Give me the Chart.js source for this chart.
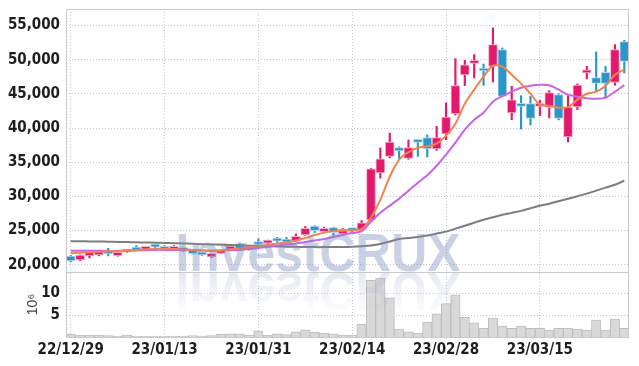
<!DOCTYPE html>
<html>
<head>
<meta charset="utf-8">
<script src="https://cdn.jsdelivr.net/npm/chart.js@4"></script>
<style>
  html, body { margin: 0; padding: 0; background: #fff; }
</style>
</head>
<body>
<canvas id="chart" width="639" height="366"></canvas>
<script>
// trading days
const labels = [
  "22/12/29", "23/01/02", "23/01/03", "23/01/04", "23/01/05", "23/01/06", "23/01/09", "23/01/10", "23/01/11", "23/01/12",
  "23/01/13", "23/01/16", "23/01/17", "23/01/18", "23/01/19", "23/01/20", "23/01/25", "23/01/26", "23/01/27", "23/01/30",
  "23/01/31", "23/02/01", "23/02/02", "23/02/03", "23/02/06", "23/02/07", "23/02/08", "23/02/09", "23/02/10", "23/02/13",
  "23/02/14", "23/02/15", "23/02/16", "23/02/17", "23/02/20", "23/02/21", "23/02/22", "23/02/23", "23/02/24", "23/02/27",
  "23/02/28", "23/03/02", "23/03/03", "23/03/06", "23/03/07", "23/03/08", "23/03/09", "23/03/10", "23/03/13", "23/03/14",
  "23/03/15", "23/03/16", "23/03/17", "23/03/20", "23/03/21", "23/03/22", "23/03/23", "23/03/24", "23/03/27", "23/03/28"
];

const opens = [
  21270, 20700, 21270, 21420, 22050, 21330, 21850, 22340, 22240, 22820,
  22630, 22240, 22530, 22140, 21560, 21130, 21660, 22240, 23100, 22240,
  23050, 23150, 23790, 23640, 23440, 24360, 25660, 24840, 25420, 24510,
  25270, 25090, 26570, 33420, 35850, 37130, 35560, 38300, 38590, 36940,
  39140, 42110, 47770, 49470, 48450, 49040, 51480, 42210, 43320, 43570,
  43180, 43030, 44890, 38690, 43090, 48090, 47380, 48150, 46680, 52650
];
const highs = [
  21350, 21450, 21900, 22100, 22400, 21850, 22150, 22800, 22600, 22950,
  22820, 22800, 22600, 22200, 21650, 21700, 22100, 22800, 23200, 22700,
  23800, 23600, 24000, 24000, 24500, 25600, 25700, 25500, 25500, 25300,
  25350, 26470, 34110, 37080, 39280, 37250, 38260, 38370, 38980, 40250,
  43680, 50160, 49910, 50750, 49380, 54660, 51730, 46110, 44740, 44640,
  44050, 45480, 45050, 44740, 46470, 49040, 51140, 49040, 52210, 52850
];
const lows = [
  20400, 20600, 20990, 21300, 21300, 21250, 21800, 22050, 22150, 22500,
  22100, 22150, 21900, 21550, 21350, 21050, 21600, 22150, 22250, 22150,
  22430, 23100, 23300, 23200, 23400, 24300, 24700, 24800, 24300, 24450,
  24600, 25000, 26300, 32690, 35630, 35520, 35430, 35850, 35760, 36750,
  38300, 41910, 46210, 47330, 46250, 46750, 44640, 41220, 39870, 40450,
  41810, 41480, 41200, 37960, 42690, 47180, 45370, 44410, 46270, 48060
];
const closes = [
  20550, 21420, 21850, 22050, 21560, 21800, 22100, 22140, 22530, 22570,
  22240, 22530, 21950, 21620, 21420, 21660, 22050, 22720, 22340, 22630,
  22950, 23440, 23440, 23300, 24160, 25320, 24990, 25320, 24700, 25230,
  24990, 26140, 34050, 35480, 37960, 36640, 37130, 37900, 36940, 38590,
  41620, 46210, 49240, 49720, 48350, 52210, 44640, 44150, 43180, 41420,
  43420, 45190, 41420, 43090, 46310, 48300, 46540, 46540, 51480, 49760
];

// moving averages as drawn
const ma5 = [
  21662, 21734, 21806, 21879, 21951, 21951, 22023, 22168, 22240, 22312,
  22312, 22312, 22240, 22168, 22095, 22023, 22095, 22240, 22384, 22529,
  22673, 22890, 23107, 23251, 23540, 23902, 24335, 24696, 24913, 24985,
  25058, 25202, 26880, 29520, 32880, 35370, 36470, 37130, 37350, 37720,
  38890, 40640, 43570, 45620, 47520, 49130, 48990, 47820, 46500, 45030,
  43420, 43280, 42990, 43060, 44160, 45030, 45330, 46210, 47820, 48550
];
const ma20 = [
  22023, 22023, 22023, 22023, 22023, 22023, 22052, 22095, 22124, 22168,
  22168, 22168, 22168, 22168, 22095, 22052, 22095, 22124, 22168, 22312,
  22457, 22601, 22818, 22962, 23107, 23324, 23540, 23757, 24046, 24335,
  24624, 24913, 26300, 27610, 28640, 29660, 30830, 32010, 33100, 34490,
  36100, 37860, 39760, 41230, 42250, 43860, 44670, 45330, 45910, 46210,
  46350, 46280, 45620, 44890, 44600, 44380, 44300, 44450, 45330, 46280
];
const ma60 = [
  23439, 23425, 23410, 23396, 23367, 23338, 23309, 23280, 23251, 23222,
  23193, 23150, 23107, 23063, 23006, 22962, 22919, 22876, 22832, 22789,
  22746, 22702, 22673, 22644, 22615, 22587, 22572, 22572, 22587, 22601,
  22644, 22717, 22818, 23035, 23396, 23757, 23902, 24046, 24263, 24552,
  24841, 25274, 25708, 26141, 26575, 26936, 27297, 27586, 27875, 28270,
  28640, 28930, 29300, 29660, 30030, 30400, 30840, 31280, 31710, 32290
];

// volume in millions
const volumes = [
  0.6, 0.4, 0.45, 0.45, 0.3, 0.2, 0.45, 0.2, 0.15, 0.2,
  0.2, 0.2, 0.2, 0.3, 0.2, 0.3, 0.6, 0.75, 0.75, 0.4,
  1.43, 0.4, 0.75, 0.55, 1.2, 1.66, 1.05, 0.9, 0.7, 0.45,
  0.45, 2.95, 12.9, 13.4, 8.9, 1.8, 1.15, 0.9, 3.4, 5.3,
  7.6, 9.6, 4.5, 3.2, 2.0, 4.3, 2.5, 2.0, 2.5, 2.0,
  2.0, 1.6, 2.0, 2.0, 1.8, 1.6, 3.85, 1.6, 4.1, 2.0
];

const priceTicks = [20000, 25000, 30000, 35000, 40000, 45000, 50000, 55000];
const volumeTicks = [5, 10];

const UP = "#e4196e";
const DOWN = "#2d96c8";
const UP_EDGE = "#f4b3cc";
const DOWN_EDGE = "#b4dbee";
const GRID = "#c3c7dc";
const FRAME = "#c9c9c9";
const TICK_FONT = { family: "'Liberation Sans Narrow', 'DejaVu Sans Condensed', sans-serif", size: 15, weight: "bold" };

const isUp = (i) => closes[i] >= opens[i];

const noPad = (s) => {
  s.width = 66;
  s.paddingTop = 0;
  s.paddingBottom = 0;
};

const frame = {
  id: "frame",
  afterDatasetsDraw(chart) {
    const { ctx, chartArea: a } = chart;
    const yv = chart.scales.yv;
    ctx.save();
    // watermark
    ctx.font = "bold 53px 'Liberation Sans', sans-serif";
    const text = "InvestCRUX";
    const w = ctx.measureText(text).width;
    const cx = 318, base = 271, target = 285;
    ctx.translate(cx, base);
    ctx.scale(target / w, 1);
    ctx.textAlign = "center";
    ctx.textBaseline = "alphabetic";
    ctx.fillStyle = "rgba(125,140,190,0.4)";
    ctx.fillText(text, 0, 0);
    ctx.scale(1, -1);
    const g = ctx.createLinearGradient(0, 0, 0, -38);
    g.addColorStop(0, "rgba(125,140,190,0.2)");
    g.addColorStop(1, "rgba(125,140,190,0.03)");
    ctx.fillStyle = g;
    ctx.fillText(text, 0, -2);
    ctx.restore();

    ctx.save();
    ctx.strokeStyle = FRAME;
    ctx.lineWidth = 1;
    ctx.strokeRect(a.left + 0.5, a.top + 0.5, a.right - a.left - 1, a.bottom - a.top);
    ctx.beginPath();
    ctx.moveTo(a.left, Math.round(yv.top) + 0.5);
    ctx.lineTo(a.right, Math.round(yv.top) + 0.5);
    ctx.stroke();
    ctx.restore();
  }
};

new Chart(document.getElementById("chart"), {
  data: {
    labels: labels,
    datasets: [
      {
        type: "line",
        label: "MA5",
        data: ma5,
        yAxisID: "y",
        borderColor: "#f0844e",
        borderWidth: 2,
        pointRadius: 0,
        tension: 0.3,
        order: 0,
      },
      {
        type: "line",
        label: "MA20",
        data: ma20,
        yAxisID: "y",
        borderColor: "#c863ea",
        borderWidth: 2,
        pointRadius: 0,
        tension: 0.3,
        order: 0,
      },
      {
        type: "line",
        label: "MA60",
        data: ma60,
        yAxisID: "y",
        borderColor: "#7d7d7d",
        borderWidth: 2,
        pointRadius: 0,
        tension: 0.3,
        order: 0,
      },
      {
        type: "bar",
        label: "wick",
        data: lows.map((l, i) => [l, highs[i]]),
        yAxisID: "y",
        grouped: false,
        barThickness: 1.5,
        backgroundColor: (c) => (isUp(c.dataIndex) ? UP : DOWN),
        order: 2,
      },
      {
        type: "bar",
        label: "body",
        data: opens.map((o, i) => [o, closes[i]]),
        yAxisID: "y",
        grouped: false,
        barThickness: 9,
        minBarLength: 3,
        borderWidth: 1,
        borderSkipped: false,
        backgroundColor: (c) => (isUp(c.dataIndex) ? UP : DOWN),
        borderColor: (c) => (isUp(c.dataIndex) ? UP_EDGE : DOWN_EDGE),
        order: 1,
      },
      {
        type: "bar",
        label: "volume",
        data: volumes,
        yAxisID: "yv",
        grouped: false,
        barPercentage: 1,
        categoryPercentage: 1,
        backgroundColor: "#d9d9d9",
        borderColor: "#bfbfbf",
        borderWidth: 1,
        borderSkipped: "bottom",
        order: 3,
      },
    ],
  },
  options: {
    responsive: false,
    animation: false,
    devicePixelRatio: 1,
    layout: { padding: { top: 9, right: 10, left: 0, bottom: 0 } },
    plugins: { legend: { display: false }, tooltip: { enabled: false } },
    scales: {
      x: {
        type: "category",
        offset: true,
        grid: {
          offset: false,
          drawTicks: false,
          color: (c) => (c.index % 10 === 0 ? GRID : "transparent"),
        },
        border: { display: false, dash: [1, 2] },
        ticks: {
          autoSkip: false,
          maxRotation: 0,
          padding: 4,
          color: "#1e1e1e",
          font: TICK_FONT,
          callback: function (v, i) {
            return i % 10 === 0 ? this.getLabelForValue(v) : "";
          },
        },
        afterFit: (s) => { s.height = 29; },
      },
      y: {
        type: "linear",
        position: "left",
        stack: "left",
        stackWeight: 263,
        weight: 1,
        min: 18930,
        max: 57430,
        grid: { drawTicks: false, color: GRID },
        border: { display: false, dash: [1, 2] },
        afterBuildTicks: (s) => { s.ticks = priceTicks.map((v) => ({ value: v })); },
        ticks: {
          autoSkip: false,
          padding: 6,
          color: "#1e1e1e",
          font: TICK_FONT,
          callback: (v) => v.toLocaleString("en-US"),
        },
        afterFit: noPad,
      },
      yv: {
        type: "linear",
        position: "left",
        stack: "left",
        stackWeight: 65,
        weight: 0,
        min: 0,
        max: 14.8,
        grid: { drawTicks: false, color: GRID },
        border: { display: false, dash: [1, 2] },
        title: {
          display: true,
          text: "10⁶",
          color: "#444",
          padding: { top: 25, bottom: 0 },
          font: { family: "'Liberation Sans', sans-serif", size: 14 },
        },
        afterBuildTicks: (s) => { s.ticks = volumeTicks.map((v) => ({ value: v })); },
        ticks: {
          autoSkip: false,
          padding: 6,
          color: "#1e1e1e",
          font: TICK_FONT,
        },
        afterFit: noPad,
      },
    },
  },
  plugins: [frame],
});
</script>
</body>
</html>
